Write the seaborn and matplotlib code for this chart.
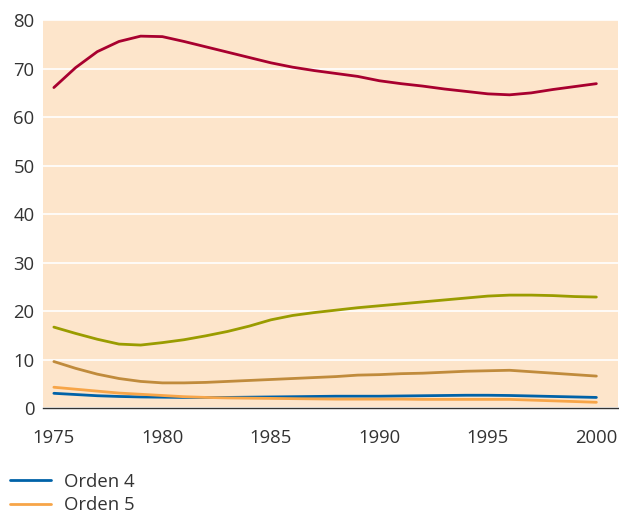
import matplotlib
matplotlib.use("Agg")
import matplotlib.pyplot as plt
import seaborn as sns
import pandas as pd
from matplotlib.lines import Line2D

years = list(range(1975, 2001))

orden_1 = [66.1, 70.2, 73.5, 75.6, 76.7, 76.6, 75.6, 74.5, 73.4, 72.3, 71.2, 70.3, 69.6,
           69.0, 68.4, 67.5, 66.9, 66.4, 65.8, 65.3, 64.8, 64.6, 65.0, 65.7, 66.3, 66.9]
orden_2 = [16.7, 15.4, 14.2, 13.2, 13.0, 13.5, 14.1, 14.9, 15.8, 16.9, 18.2, 19.1, 19.7,
           20.2, 20.7, 21.1, 21.5, 21.9, 22.3, 22.7, 23.1, 23.3, 23.3, 23.2, 23.0, 22.9]
orden_3 = [9.6, 8.2, 7.0, 6.1, 5.5, 5.2, 5.2, 5.3, 5.5, 5.7, 5.9, 6.1, 6.3,
           6.5, 6.8, 6.9, 7.1, 7.2, 7.4, 7.6, 7.7, 7.8, 7.5, 7.2, 6.9, 6.6]
orden_4 = [3.05, 2.8, 2.55, 2.4, 2.3, 2.25, 2.2, 2.2, 2.2, 2.25, 2.3, 2.35, 2.4,
           2.45, 2.45, 2.45, 2.5, 2.55, 2.6, 2.65, 2.65, 2.6, 2.5, 2.4, 2.3, 2.2]
orden_5 = [4.3, 3.9, 3.5, 3.1, 2.85, 2.6, 2.35, 2.2, 2.1, 2.05, 2.0, 1.95, 1.9,
           1.85, 1.85, 1.85, 1.85, 1.8, 1.8, 1.8, 1.8, 1.8, 1.65, 1.5, 1.35, 1.2]

series_names = ["Orden 1", "Orden 2", "Orden 3", "Orden 4", "Orden 5"]
series_values = [orden_1, orden_2, orden_3, orden_4, orden_5]
colors = ["#a8002f", "#9a9c00", "#c08b3c", "#0062a8", "#f7a548"]

x_ticks = [1975, 1980, 1985, 1990, 1995, 2000]
y_ticks = [0, 10, 20, 30, 40, 50, 60, 70, 80]
legend_labels = ["Orden 4", "Orden 5"]

rows = []
for name, vals in zip(series_names, series_values):
    for y, v in zip(years, vals):
        rows.append({"Año": y, "Valor": v, "Serie": name})
df = pd.DataFrame(rows)

sns.set_style("white")
plt.rcParams["font.family"] = ["Open Sans", "DejaVu Sans"]

fig = plt.figure(figsize=(6.19, 5.30), dpi=100)
ax = fig.add_axes([0.0695, 0.230, 0.929, 0.732])
ax.set_facecolor("#fde5cb")

sns.lineplot(data=df, x="Año", y="Valor", hue="Serie", hue_order=series_names,
             palette=colors, linewidth=2.0, ax=ax, legend=False, zorder=3)

ax.set_xlim(1974.5, 2001.0)
ax.set_ylim(0, 80)
ax.set_xticks(x_ticks)
ax.set_yticks(y_ticks)
ax.set_xlabel("")
ax.set_ylabel("")
ax.grid(axis="y", color="white", linewidth=1.2, zorder=1)
ax.grid(axis="x", visible=False)
ax.set_axisbelow(True)

for s in ["left", "right", "top"]:
    ax.spines[s].set_visible(False)
ax.spines["bottom"].set_color("#333333")
ax.spines["bottom"].set_linewidth(1.0)

ax.tick_params(axis="x", direction="out", length=10, width=1.0, color="#333333",
               labelsize=13.3, labelcolor="#333333", pad=5)
ax.tick_params(axis="y", length=0, labelsize=13.3, labelcolor="#333333", pad=6)

handles = [Line2D([0], [0], color=colors[3], linewidth=2.0),
           Line2D([0], [0], color=colors[4], linewidth=2.0)]
fig.legend(handles, legend_labels, loc="upper left",
           bbox_to_anchor=(0.005, 0.122), frameon=False, fontsize=13.3,
           handlelength=2.2, handletextpad=0.7, labelspacing=0.3,
           labelcolor="#333333", borderaxespad=0.0)

fig.savefig("out.png", dpi=100, facecolor="white")
